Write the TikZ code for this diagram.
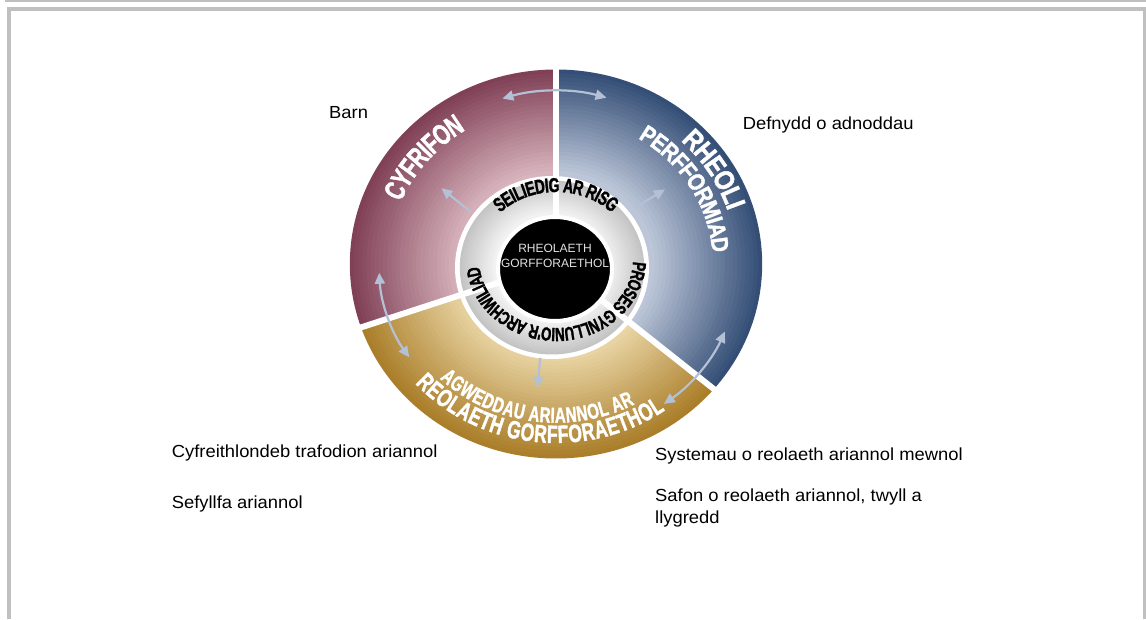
\documentclass[tikz,border=0pt]{standalone}
\usepackage{fontspec}
\setmainfont{Liberation Sans}
\newfontfamily\labelfont[FakeStretch=1.05]{Liberation Sans}
\newfontfamily\wheelfont[FakeStretch=0.7, FakeBold=1.5]{Liberation Sans}
\newfontfamily\widewheelfont[FakeStretch=0.85, FakeBold=1.5]{Liberation Sans}
\usetikzlibrary{arrows.meta,decorations.text,calc}

\definecolor{framegrey}{RGB}{192,192,192}
\definecolor{maroonout}{RGB}{128,64,86}
\definecolor{maroonin}{RGB}{216,180,190}
\definecolor{blueout}{RGB}{52,78,118}
\definecolor{bluein}{RGB}{188,198,216}
\definecolor{goldout}{RGB}{170,126,42}
\definecolor{goldin}{RGB}{234,214,166}
\definecolor{ringout}{RGB}{196,196,196}
\definecolor{ringin}{RGB}{242,242,242}
\definecolor{arrowblue}{RGB}{180,192,214}
\definecolor{coretext}{RGB}{225,225,225}

\begin{document}
\begin{tikzpicture}[x=1pt, y=1pt,
  framebar/.style={draw=framegrey, line width=4pt},
  sidetext/.style={anchor=base west, inner sep=0pt, font=\labelfont\fontsize{17.5}{22}\selectfont},
  oneway/.style={draw=arrowblue, line width=2.2pt, -{Triangle[length=11pt, width=10pt]}},
  twoway/.style={draw=arrowblue, line width=2.2pt, {Triangle[length=11pt, width=10pt]}-{Triangle[length=11pt, width=10pt]}}]

\useasboundingbox (0,0) rectangle (1146,619);

\draw [framebar, line width=2pt] (5,618) -- (1146,618);
\draw [framebar] (8.5,0) -- (8.5,609.5) -- (1144.5,609.5) -- (1144.5,0);

\coordinate (O) at (556,355);
\coordinate (G) at (552,351.5);
\coordinate (D) at (555,350);
\coordinate (T) at (556,360);

\foreach \a/\b/\cA/\cB in {90/199/maroonin/maroonout, -40/90/bluein/blueout, 199/320/goldin/goldout} {
  \begin{scope}
    \clip (O) -- ++(\a:230 and 217) arc [start angle=\a, end angle=\b, x radius=230, y radius=217] -- cycle;
    \foreach \i in {0,...,26} {
      \pgfmathsetmacro\rad{194.5-\i*3.9}
      \pgfmathtruncatemacro\pct{100-\i*100/26}
      \fill [\cB!\pct!\cA] (O) ellipse [x radius=1.06*\rad, y radius=\rad];
    }
  \end{scope}
}

\fill [white] (G) ellipse [x radius=97, y radius=91.5];

\foreach \i in {0,...,16} {
  \pgfmathsetmacro\rad{87-\i*2}
  \pgfmathtruncatemacro\pct{100-\i*100/16}
  \fill [ringout!\pct!ringin] (G) ellipse [x radius=1.06*\rad, y radius=\rad];
}

\foreach \a in {90,199,320}
  \draw [white, line width=6pt] (O) -- ++(\a:215 and 203);

\draw [white, line width=4pt, fill=black] (D) ellipse [x radius=57, y radius=52];

\node (core) [text=coretext, align=center, font=\fontsize{12}{15}\selectfont] at (555,363.5) {RHEOLAETH\\GORFFORAETHOL};

\coordinate (cyfA) at ($(O)+(175:179.1 and 169)$);
\coordinate (rheA) at ($(O)+(62:190.8 and 180)$);
\coordinate (perA) at ($(O)+(76:165.4 and 156)$);
\coordinate (agwA) at ($(O)+(217:160 and 151)$);
\coordinate (reoA) at ($(O)+(213.5:180.2 and 170)$);
\coordinate (seiA) at ($(T)+(150:84 and 74)$);
\coordinate (proA) at ($(T)+(15:84 and 76)$);

\path [decorate, decoration={text along path, text align=center, text color=white, raise=-10.4pt,
  text={|\wheelfont\bfseries\fontsize{29}{31}\selectfont|CYFRIFON}}]
  (cyfA) arc [start angle=175, end angle=105, x radius=179.1, y radius=169];
\path [decorate, decoration={text along path, text align=center, text color=white, raise=-10pt,
  text={|\widewheelfont\bfseries\fontsize{28}{30}\selectfont|RHEOLI}}]
  (rheA) arc [start angle=62, end angle=2, x radius=190.8, y radius=180];
\path [decorate, decoration={text along path, text align=center, text color=white, raise=-8.6pt,
  text={|\widewheelfont\bfseries\fontsize{24}{26}\selectfont|PERFFORMIAD}}]
  (perA) arc [start angle=76, end angle=-14, x radius=165.4, y radius=156];
\path [decorate, decoration={text along path, text align=center, text color=white, raise=-7.7pt,
  text={|\wheelfont\bfseries\fontsize{21.5}{23}\selectfont|AGWEDDAU ARIANNOL AR}}]
  (agwA) arc [start angle=217, end angle=307, x radius=160, y radius=151];
\path [decorate, decoration={text along path, text align=center, text color=white, raise=-9pt,
  text={|\wheelfont\bfseries\fontsize{25}{27}\selectfont|REOLAETH GORFFORAETHOL}}]
  (reoA) arc [start angle=213.5, end angle=313.5, x radius=180.2, y radius=170];

\path [decorate, decoration={text along path, text align=center, text color=black, raise=-7pt,
  text={|\wheelfont\bfseries\fontsize{20}{22}\selectfont|SEILIEDIG AR RISG}}]
  (seiA) arc [start angle=150, end angle=30, x radius=84, y radius=74];
\path [decorate, decoration={text along path, text align=center, text color=black, raise=-7pt,
  text={|\wheelfont\bfseries\fontsize{19}{21}\selectfont|PROSES GYNLLUNIO'R ARCHWILIAD}}]
  (proA) arc [start angle=15, end angle=-191, x radius=84, y radius=76];

\coordinate (topA) at ($(O)+(107:183.4 and 173)$);
\coordinate (leftA) at ($(O)+(183:177 and 167)$);
\coordinate (rightA) at ($(O)+(-23:183.4 and 173)$);

\draw [twoway] (topA) arc [start angle=107, end angle=74, x radius=183.4, y radius=173];
\draw [twoway] (leftA) arc [start angle=183, end angle=214, x radius=177, y radius=167];
\draw [twoway] (rightA) arc [start angle=-23, end angle=-54, x radius=183.4, y radius=173];

\coordinate (ulA) at ($(O)+(147:101.8 and 96)$);
\coordinate (ulB) at ($(O)+(145:139.9 and 132)$);
\coordinate (urA) at ($(O)+(37:98.6 and 93)$);
\coordinate (urB) at ($(O)+(36:134.6 and 127)$);
\coordinate (dnA) at ($(O)+(261:100.7 and 95)$);
\coordinate (dnB) at ($(O)+(262:132.5 and 125)$);

\draw [oneway] (ulA) -- (ulB);
\draw [oneway] (urA) -- (urB);
\draw [oneway] (dnA) -- (dnB);

\node (barn) [sidetext] at (329,500) {Barn};
\node (adnoddau) [sidetext] at (742.7,489) {Defnydd o adnoddau};
\node (cyfreithlondeb) [sidetext] at (171.7,161) {Cyfreithlondeb trafodion ariannol};
\node (sefyllfa) [sidetext] at (171.7,111) {Sefyllfa ariannol};
\node (systemau) [sidetext] at (655,158.5) {Systemau o reolaeth ariannol mewnol};
\node (safon) [sidetext, align=left] at (655,96) {Safon o reolaeth ariannol, twyll a\\llygredd};

\end{tikzpicture}
\end{document}
